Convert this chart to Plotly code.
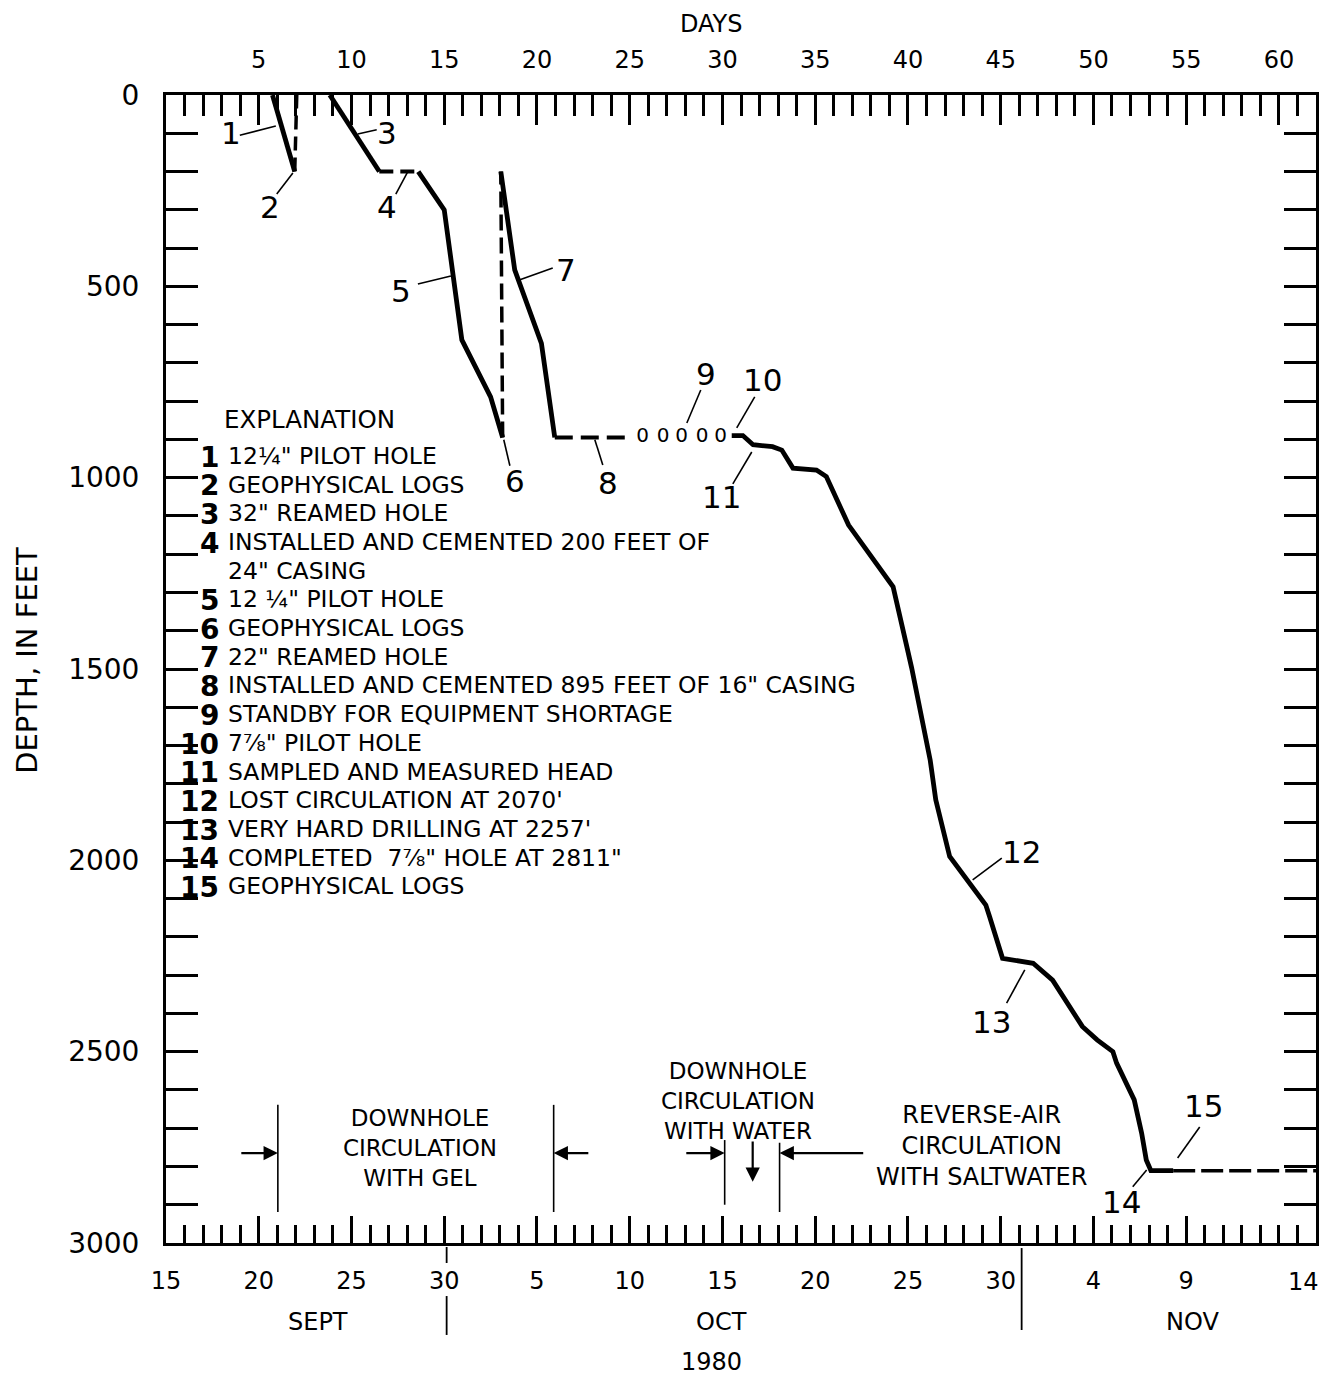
import plotly.graph_objects as go

FONT = "DejaVu Sans"

# ---------------- data (days since 15 Sept 1980, depth in feet) ----------------
pilot1_day = [5.74, 6.94]
pilot1_depth = [0, 200]
logs1_day = [6.94, 7.05]
logs1_depth = [200, 0]
ream32_day = [8.83, 11.5]
ream32_depth = [0, 200]
casing24_day = [11.5, 13.6]
casing24_depth = [200, 200]
pilot2_day = [13.6, 15.0, 15.95, 16.74, 17.5, 18.15]
pilot2_depth = [200, 300, 640, 719, 789, 895]
logs2_day = [18.15, 18.05]
logs2_depth = [895, 200]
ream22_day = [18.05, 18.8, 20.24, 20.96]
ream22_depth = [200, 457, 649, 895]
casing16_day = [20.96, 24.85]
casing16_depth = [895, 895]
standby_day = [25.7, 26.8, 27.8, 28.9, 29.9]
standby_depth = [895, 895, 895, 895, 895]
pilot3_day = [30.5, 31.1, 31.65, 32.7, 33.2, 33.8, 35.07, 35.6, 36.8, 39.0, 39.2,
              39.9, 40.2, 41.2, 41.5, 42.25, 43.3, 44.2, 44.4, 45.1, 46.75, 47.8,
              49.4, 50.2, 51.05, 51.25, 52.2, 52.6, 52.85, 53.1, 54.3]
pilot3_depth = [890, 890, 914, 919, 928, 975, 980, 997, 1124, 1267, 1285,
                1433, 1497, 1738, 1842, 1990, 2056, 2117, 2147, 2256, 2269, 2313,
                2434, 2469, 2500, 2530, 2626, 2713, 2783, 2811, 2811]
logs3_day = [54.3, 62.0]
logs3_depth = [2811, 2811]

# axis ticks
day_ticks = list(range(5, 61, 5))
day_labels = [str(d) for d in day_ticks]
date_ticks = list(range(0, 61, 5))
date_labels = ["15", "20", "25", "30", "5", "10", "15", "20", "25", "30", "4", "9", ""]
depth_ticks = list(range(0, 3001, 500))
depth_labels = [str(d) for d in depth_ticks]

# explanation
explain_nums = ["1", "2", "3", "4", "", "5", "6", "7", "8", "9", "10", "11", "12", "13", "14", "15"]
explain_text = ['12¼" PILOT HOLE', "GEOPHYSICAL LOGS", '32" REAMED HOLE',
                "INSTALLED AND CEMENTED 200 FEET OF", '24" CASING', '12 ¼" PILOT HOLE',
                "GEOPHYSICAL LOGS", '22" REAMED HOLE',
                'INSTALLED AND CEMENTED 895 FEET OF 16" CASING',
                "STANDBY FOR EQUIPMENT SHORTAGE", '7⅞" PILOT HOLE',
                "SAMPLED AND MEASURED HEAD", "LOST CIRCULATION AT 2070'",
                "VERY HARD DRILLING AT 2257'", 'COMPLETED  7⅞" HOLE AT 2811"',
                "GEOPHYSICAL LOGS"]

# event labels on the curve: (text, day, depth, leader from, leader to)
event_labels = [
    ("1", 3.49, 99, (3.98, 105), (5.92, 81)),
    ("2", 5.60, 293, (5.97, 259), (6.84, 204)),
    ("3", 11.90, 99, (10.34, 102), (11.36, 91)),
    ("4", 11.90, 293, (12.39, 259), (13.03, 201)),
    ("5", 12.66, 512, (13.58, 494), (15.36, 473)),
    ("6", 18.80, 1009, (18.54, 969), (18.21, 901)),
    ("7", 21.55, 457, (20.85, 452), (19.08, 483)),
    ("8", 23.82, 1014, (23.55, 967), (23.12, 901)),
    ("9", 29.10, 729, (28.83, 771), (28.08, 857)),
    ("10", 32.17, 745, (31.74, 789), (30.77, 870)),
    ("11", 29.96, 1050, (30.56, 1016), (31.58, 933)),
    ("12", 46.13, 1978, (43.49, 2051), (45.06, 1994)),
    ("13", 44.52, 2422, (45.32, 2373), (46.30, 2286)),
    ("14", 51.53, 2893, (52.12, 2853), (52.87, 2809)),
    ("15", 55.96, 2642, (54.54, 2778), (55.73, 2697)),
]

fig = go.Figure()


def seg(x, y, dash=None, w=4.8):
    fig.add_trace(go.Scatter(x=x, y=y, mode="lines",
                             line=dict(color="black", width=w, dash=dash),
                             showlegend=False, hoverinfo="skip"))


seg(pilot1_day, pilot1_depth)
seg(logs1_day, logs1_depth, dash="14px,7px", w=3.5)
seg(ream32_day, ream32_depth)
seg(casing24_day, casing24_depth, dash="14px,7px", w=4)
seg(pilot2_day, pilot2_depth)
seg(logs2_day, logs2_depth, dash="16px,7px", w=3.5)
seg(ream22_day, ream22_depth)
seg(casing16_day, casing16_depth, dash="18px,8px", w=4)
seg(pilot3_day, pilot3_depth)
seg(logs3_day, logs3_depth, dash="22px,6px", w=3.5)

fig.add_trace(go.Scatter(x=standby_day, y=standby_depth, mode="text",
                         text=["0"] * len(standby_day),
                         textfont=dict(family=FONT, size=20, color="black"),
                         showlegend=False, hoverinfo="skip"))
# invisible trace so the top (days) axis is drawn
fig.add_trace(go.Scatter(x=[None], y=[None], xaxis="x2", yaxis="y",
                         showlegend=False, hoverinfo="skip"))

ann = []
shapes = []

# event labels and leaders
for txt, d, z, p0, p1 in event_labels:
    ann.append(dict(x=d, y=z, xref="x", yref="y", text=txt, showarrow=False,
                    xanchor="center", yanchor="middle",
                    font=dict(family=FONT, size=31, color="black")))
    shapes.append(dict(type="line", xref="x", yref="y", x0=p0[0], y0=p0[1],
                       x1=p1[0], y1=p1[1], line=dict(color="black", width=1.6)))

# explanation block
ann.append(dict(x=3.01, y=849, xref="x", yref="y", text="EXPLANATION", showarrow=False,
                xanchor="left", yanchor="middle",
                font=dict(family=FONT, size=24.5, color="black")))
for i, (n, t) in enumerate(zip(explain_nums, explain_text)):
    depth = 943 + 75 * i
    if n:
        ann.append(dict(x=2.97, y=depth + 3, xref="x", yref="y", text=n, showarrow=False,
                        xanchor="right", yanchor="middle",
                        font=dict(family=FONT, size=28, color="black", weight="bold")))
    ann.append(dict(x=3.23, y=depth, xref="x", yref="y", text=t, showarrow=False,
                    xanchor="left", yanchor="middle",
                    font=dict(family=FONT, size=23.5, color="black")))

# circulation periods
circ_font = dict(family=FONT, size=23, color="black")
ann.append(dict(x=13.68, y=2751, xref="x", yref="y", xanchor="center", yanchor="middle",
                text="DOWNHOLE<br>CIRCULATION<br>WITH GEL", showarrow=False, font=circ_font))
ann.append(dict(x=30.82, y=2629, xref="x", yref="y", xanchor="center", yanchor="middle",
                text="DOWNHOLE<br>CIRCULATION<br>WITH WATER", showarrow=False, font=circ_font))
ann.append(dict(x=43.98, y=2746, xref="x", yref="y", xanchor="center", yanchor="middle",
                text="REVERSE-AIR<br>CIRCULATION<br>WITH SALTWATER", showarrow=False,
                font=dict(family=FONT, size=24, color="black")))

for xd, z0, z1 in [(6.03, 2639, 2919), (20.9, 2639, 2919), (30.12, 2731, 2900),
                   (33.08, 2738, 2919)]:
    shapes.append(dict(type="line", xref="x", yref="y", x0=xd, x1=xd, y0=z0, y1=z1,
                       line=dict(color="black", width=1.6)))

for tipx, tipy, tailx, taily in [(6.03, 2765, 3.98, 2765), (20.9, 2765, 22.85, 2765),
                                 (30.12, 2765, 27.97, 2765), (33.08, 2765, 37.67, 2765),
                                 (31.63, 2840, 31.63, 2731)]:
    ann.append(dict(x=tipx, y=tipy, ax=tailx, ay=taily, xref="x", yref="y",
                    axref="x", ayref="y", text="", showarrow=True, arrowhead=2,
                    arrowsize=1.3, arrowwidth=2.2, arrowcolor="black"))

# month labels, year, separators
for txt, d in [("SEPT", 8.18), ("OCT", 29.96), ("NOV", 55.35)]:
    ann.append(dict(x=d, y=-0.0688, xref="x", yref="paper", text=txt, showarrow=False,
                    xanchor="center", yanchor="middle",
                    font=dict(family=FONT, size=24, color="black")))
ann.append(dict(x=29.4, y=-0.1037, xref="x", yref="paper", text="1980", showarrow=False,
                xanchor="center", yanchor="middle",
                font=dict(family=FONT, size=24, color="black")))
ann.append(dict(x=61.34, y=-0.0340, xref="x", yref="paper", text="14", showarrow=False,
                xanchor="center", yanchor="middle",
                font=dict(family=FONT, size=24, color="black")))
for xd, y0, y1 in [(15.13, -0.0035, -0.0174), (15.13, -0.0462, -0.0801),
                   (46.13, -0.0044, -0.0758)]:
    shapes.append(dict(type="line", xref="x", yref="paper", x0=xd, x1=xd, y0=y0, y1=y1,
                       line=dict(color="black", width=1.8)))

# axis titles
ann.append(dict(x=29.4, y=1.0619, xref="x", yref="paper", text="DAYS", showarrow=False,
                xanchor="center", yanchor="middle",
                font=dict(family=FONT, size=24, color="black")))
ann.append(dict(x=-0.1209, y=0.508, xref="paper", yref="paper", text="DEPTH, IN FEET",
                textangle=-90, showarrow=False, xanchor="center", yanchor="middle",
                font=dict(family=FONT, size=29, color="black")))

tickfont = dict(family=FONT, size=24, color="black")
fig.update_layout(
    width=1320, height=1370,
    margin=dict(l=158, r=12, t=87, b=135, autoexpand=False),
    paper_bgcolor="white", plot_bgcolor="white",
    xaxis=dict(range=[0, 62], tickmode="array", tickvals=date_ticks, ticktext=date_labels,
               ticks="inside", ticklen=27, tickwidth=2.5, tickcolor="black",
               minor=dict(tickmode="array", tickvals=list(range(0, 63)), ticks="inside",
                          ticklen=18, tickwidth=2.5, tickcolor="black", showgrid=False),
               showline=True, linewidth=3, linecolor="black", mirror=True,
               showgrid=False, zeroline=False, tickfont=tickfont, ticklabelstandoff=14),
    xaxis2=dict(range=[0, 62], overlaying="x", side="top", tickmode="array",
                tickvals=day_ticks, ticktext=day_labels,
                ticks="inside", ticklen=30, tickwidth=2.5, tickcolor="black",
                minor=dict(tickmode="array", tickvals=list(range(0, 63)), ticks="inside",
                           ticklen=21, tickwidth=2.5, tickcolor="black", showgrid=False),
                showline=True, linewidth=3, linecolor="black",
                showgrid=False, zeroline=False, tickfont=tickfont, ticklabelstandoff=14),
    yaxis=dict(range=[3000, 0], tickmode="array", tickvals=depth_ticks, ticktext=depth_labels,
               ticks="inside", ticklen=32, tickwidth=2.5, tickcolor="black",
               minor=dict(tickmode="array", tickvals=list(range(0, 3001, 100)),
                          ticks="inside", ticklen=22, tickwidth=2.5, tickcolor="black",
                          showgrid=False),
               showline=True, linewidth=3, linecolor="black", mirror="allticks",
               showgrid=False, zeroline=False,
               tickfont=dict(family=FONT, size=28, color="black"), ticklabelstandoff=18),
    annotations=ann, shapes=shapes,
    font=dict(family=FONT, color="black"),
)

fig.write_html("out.html")
